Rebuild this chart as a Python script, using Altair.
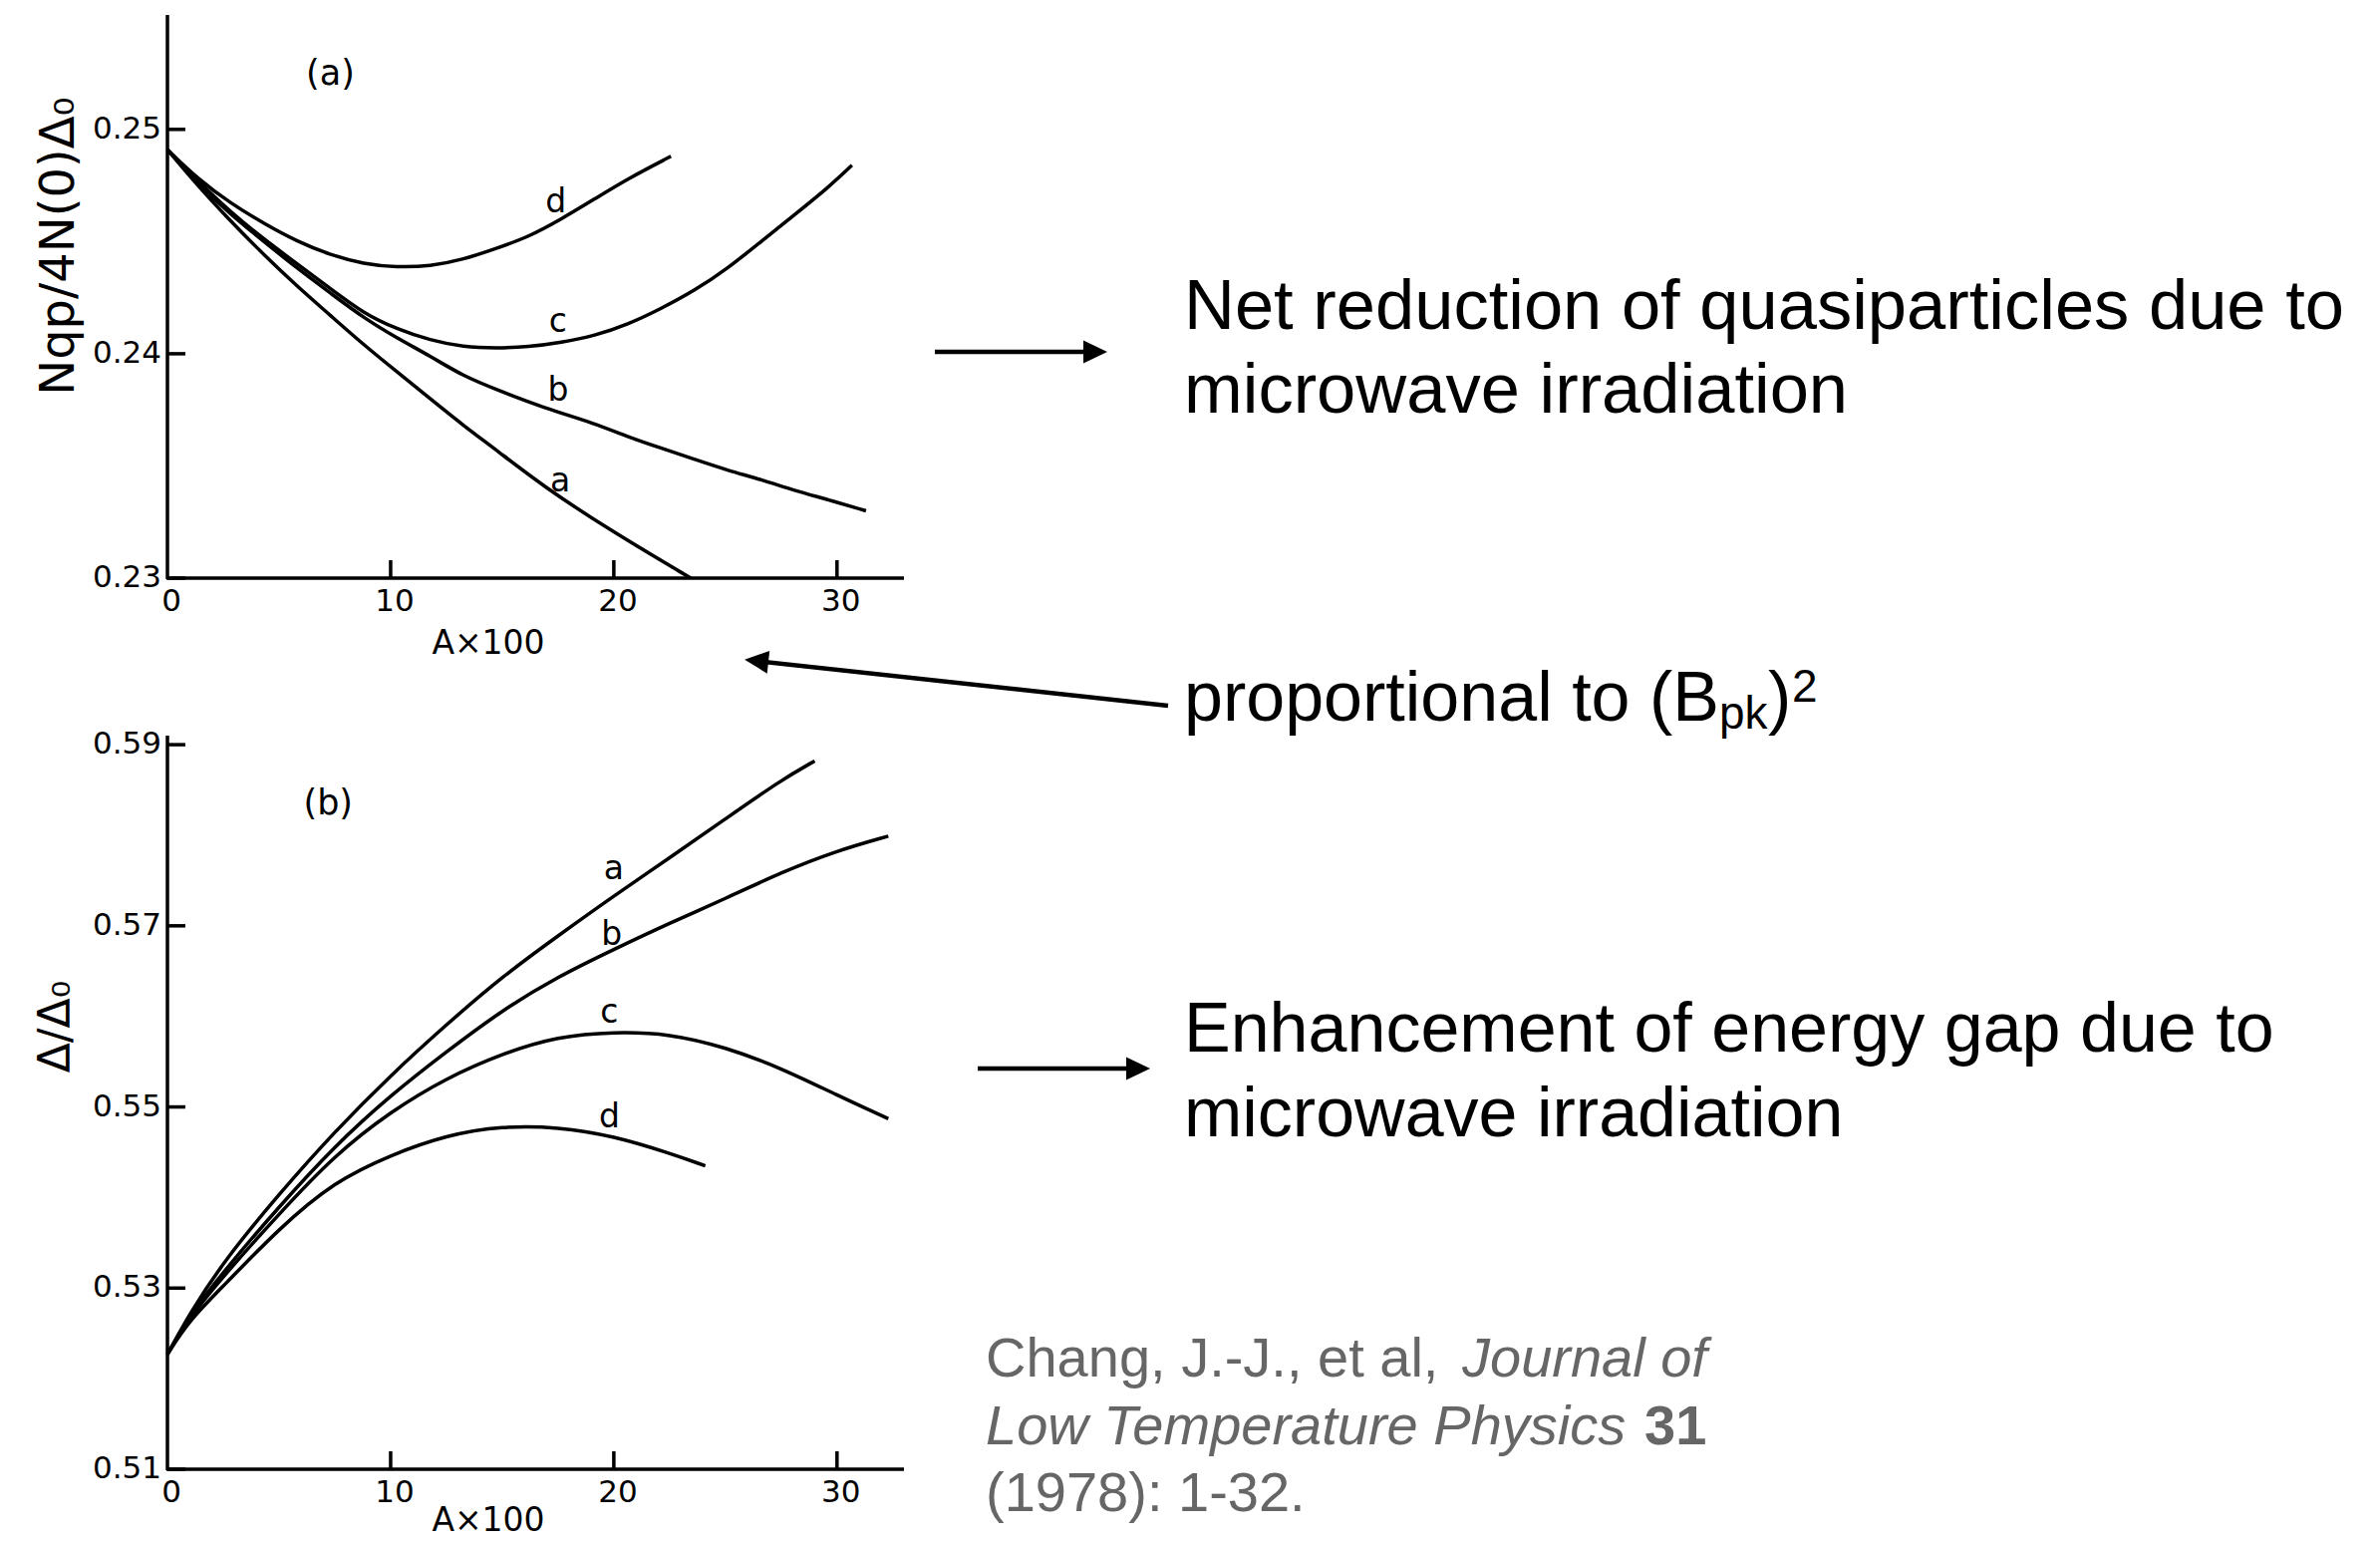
import altair as alt
import pandas as pd

# ---------------- data ----------------
CURVES = ["a", "b", "c", "d"]

# panel (a): N_qp / 4N(0)Delta0 vs A x 100
A_a_x = [0, 1.35, 2.84, 4.33, 5.82, 7.31, 8.79, 10.28, 11.77, 13.26, 14.75, 16.83, 19.88, 23.45]
A_a_y = [0.2491, 0.2475, 0.2459, 0.2444, 0.2430, 0.2417, 0.2404, 0.2392, 0.2380, 0.2368, 0.2357, 0.2341, 0.2321, 0.2300]
A_b_x = [0, 1.35, 2.84, 4.33, 5.82, 7.31, 8.79, 10.28, 11.77, 13.26, 14.75, 16.83, 19.14, 20.62, 22.1, 23.6, 25.1, 26.6, 28.1, 29.6, 31.3]
A_b_y = [0.2491, 0.2476, 0.2462, 0.2450, 0.2438, 0.2427, 0.2416, 0.2407, 0.2399, 0.2390, 0.2384, 0.2376, 0.2369, 0.2363, 0.2358, 0.2353, 0.2348, 0.2344, 0.2339, 0.2335, 0.2330]
A_c_x = [0, 1.35, 2.84, 4.33, 5.82, 7.31, 8.79, 10.28, 11.77, 13.26, 14.75, 16.16, 17.65, 19.14, 20.62, 22.1, 23.6, 25.1, 26.6, 28.1, 29.6, 30.67]
A_c_y = [0.2491, 0.2477, 0.2463, 0.2451, 0.2440, 0.2429, 0.2418, 0.2411, 0.2406, 0.2403, 0.24025, 0.2403, 0.2405, 0.2408, 0.2413, 0.2420, 0.2428, 0.2438, 0.2450, 0.2462, 0.2474, 0.2484]
A_d_x = [0, 1.35, 2.84, 4.33, 5.82, 7.31, 8.79, 10.28, 11.77, 13.26, 14.75, 16.16, 17.65, 19.14, 20.62, 22.56]
A_d_y = [0.2491, 0.2478, 0.2467, 0.2458, 0.2450, 0.2444, 0.2440, 0.24385, 0.2439, 0.2442, 0.2447, 0.2452, 0.2460, 0.2469, 0.2478, 0.2488]

# panel (b): Delta / Delta0 vs A x 100
B_a_x = [0, 1, 2.5, 5, 7.5, 10, 12.5, 15, 17.5, 20, 22.5, 25, 27.5, 29]
B_a_y = [0.5227, 0.5272, 0.5329, 0.5404, 0.5473, 0.5535, 0.5591, 0.5644, 0.5689, 0.5733, 0.5775, 0.5818, 0.5861, 0.5882]
B_b_x = [0, 1, 2.5, 5, 7.5, 10, 12.5, 15, 17.5, 20, 22.5, 25, 27.5, 30, 32.3]
B_b_y = [0.5227, 0.5270, 0.5318, 0.5390, 0.5457, 0.5513, 0.5561, 0.5607, 0.5644, 0.5674, 0.5703, 0.5730, 0.5759, 0.5783, 0.5799]
B_c_x = [0, 1, 2.5, 5, 7.5, 10, 12.5, 15, 17.5, 20, 22.5, 25, 27.5, 30, 32.3]
B_c_y = [0.5227, 0.5268, 0.5313, 0.5382, 0.5447, 0.5495, 0.5532, 0.5559, 0.5578, 0.5583, 0.5581, 0.5566, 0.5543, 0.5513, 0.5487]
B_d_x = [0, 1, 2.5, 5, 7.5, 10, 12.5, 15, 17.5, 20, 22.5, 24.1]
B_d_y = [0.5227, 0.5265, 0.5302, 0.5366, 0.5418, 0.5447, 0.5469, 0.5479, 0.5478, 0.5468, 0.5449, 0.5435]

# curve label positions (x, y) in data units
A_LABEL_X = [17.6, 17.5, 17.5, 17.4]
A_LABEL_Y = [0.23431, 0.23836, 0.24142, 0.24676]
B_LABEL_X = [20.0, 19.9, 19.8, 19.8]
B_LABEL_Y = [0.5762, 0.5690, 0.5604, 0.5489]
PANEL_TAGS = ["(a)", "(b)"]
A_TAG_XY = [7.3, 0.2525]
B_TAG_XY = [7.2, 0.5835]

X_TICKS = [0, 10, 20, 30]
X_MINOR = [10, 20, 30]
A_Y_TICKS = [0.23, 0.24, 0.25]
B_Y_TICKS = [0.51, 0.53, 0.55, 0.57, 0.59]

X_TITLE = "A×100"
A_Y_TITLE = "Nqp/4N(0)Δ₀"
B_Y_TITLE = "Δ/Δ₀"

NOTE_1 = ["Net reduction of quasiparticles due to", "microwave irradiation"]
NOTE_2 = ["proportional to (B", "pk", ")", "2"]
NOTE_3 = ["Enhancement of energy gap due to", "microwave irradiation"]
CITE = ["Chang, J.-J., et al, ", "Journal of", "Low Temperature Physics ", "31", "(1978): 1-32."]

FIG_FONT = "DejaVu Sans"
TXT_FONT = "Liberation Sans"


def long_df(xs_list, ys_list):
    rows = []
    for name, xs, ys in zip(CURVES, xs_list, ys_list):
        for x, y in zip(xs, ys):
            rows.append({"curve": name, "x": x, "y": y})
    return pd.DataFrame(rows)


dfA = long_df([A_a_x, A_b_x, A_c_x, A_d_x], [A_a_y, A_b_y, A_c_y, A_d_y])
dfB = long_df([B_a_x, B_b_x, B_c_x, B_d_x], [B_a_y, B_b_y, B_c_y, B_d_y])
labA = pd.DataFrame({"label": CURVES, "x": A_LABEL_X, "y": A_LABEL_Y})
labB = pd.DataFrame({"label": CURVES, "x": B_LABEL_X, "y": B_LABEL_Y})
tagA = pd.DataFrame({"label": [PANEL_TAGS[0]], "x": [A_TAG_XY[0]], "y": [A_TAG_XY[1]]})
tagB = pd.DataFrame({"label": [PANEL_TAGS[1]], "x": [B_TAG_XY[0]], "y": [B_TAG_XY[1]]})
ONE = pd.DataFrame({"k": [0]})

W, H = 2388, 1546
X0, X1 = 168, 907
A_BOT, A_TOP = 580, 15
B_BOT, B_TOP = 1474, 738
LW = 3.5


def xscale():
    return alt.Scale(domain=[0, 33], range=[X0, X1], nice=False, zero=False)


YA = dict(domain=[0.23, 0.2551], range=[A_BOT, A_TOP], nice=False, zero=False)
YB = dict(domain=[0.51, 0.591], range=[B_BOT, B_TOP], nice=False, zero=False)


def panel(df, lab, tag, yscale, ybot, ytop, yticks, ytitle, ytitle_xy, ytitle_fs, xtitle_base):
    X = lambda f: alt.X(f, scale=xscale(), axis=None)
    Y = lambda f: alt.Y(f, scale=alt.Scale(**yscale), axis=None)

    lines = alt.Chart(df).mark_line(color="black", strokeWidth=LW, interpolate="basis").encode(
        x=X("x:Q"), y=Y("y:Q"), detail="curve:N",
    )
    labels = alt.Chart(lab).mark_text(font=FIG_FONT, fontSize=33, color="black").encode(
        x=X("x:Q"), y=Y("y:Q"), text="label:N",
    )
    tags = alt.Chart(tag).mark_text(font=FIG_FONT, fontSize=35, color="black").encode(
        x=X("x:Q"), y=Y("y:Q"), text="label:N",
    )
    # axis lines
    xdom = alt.Chart(ONE).mark_rule(color="black", strokeWidth=LW).encode(
        x=alt.value(X0 - 1), x2=alt.value(X1), y=alt.value(ybot), y2=alt.value(ybot))
    ydom = alt.Chart(ONE).mark_rule(color="black", strokeWidth=LW).encode(
        x=alt.value(X0), x2=alt.value(X0), y=alt.value(ytop), y2=alt.value(ybot + 1))
    # ticks
    xt = alt.Chart(pd.DataFrame({"v": X_MINOR})).mark_rule(color="black", strokeWidth=LW).encode(
        x=X("v:Q"), y=alt.value(ybot - 18), y2=alt.value(ybot),
    )
    yt = alt.Chart(pd.DataFrame({"v": yticks})).mark_rule(color="black", strokeWidth=LW).encode(
        y=Y("v:Q"), x=alt.value(X0), x2=alt.value(X0 + 18),
    )
    # tick labels
    xl = alt.Chart(pd.DataFrame({"v": X_TICKS, "t": [str(v) for v in X_TICKS]})).mark_text(
        font=FIG_FONT, fontSize=31, color="black", baseline="middle", align="center", dx=4
    ).encode(x=X("v:Q"), y=alt.value(ybot + 24), text="t:N")
    yl = alt.Chart(pd.DataFrame({"v": yticks, "t": [f"{v:.2f}" for v in yticks]})).mark_text(
        font=FIG_FONT, fontSize=31, color="black", baseline="middle", align="right"
    ).encode(y=Y("v:Q"), x=alt.value(X0 - 6), text="t:N")
    # axis titles
    xtl = alt.Chart(ONE).mark_text(font=FIG_FONT, fontSize=33, color="black",
                                   baseline="alphabetic", align="center").encode(
        x=alt.value(490), y=alt.value(xtitle_base), text=alt.value(X_TITLE))
    ytl = alt.Chart(ONE).mark_text(font=FIG_FONT, fontSize=ytitle_fs, color="black",
                                   baseline="middle", align="center", angle=270).encode(
        x=alt.value(ytitle_xy[0]), y=alt.value(ytitle_xy[1]), text=alt.value(ytitle))
    return alt.layer(xdom, ydom, xt, yt, xl, yl, xtl, ytl, lines, labels, tags)


panelA = panel(dfA, labA, tagA, YA, A_BOT, A_TOP, A_Y_TICKS, A_Y_TITLE, (60, 247), 48, 656)
panelB = panel(dfB, labB, tagB, YB, B_BOT, B_TOP, B_Y_TICKS, B_Y_TITLE, (57, 1030), 44, 1536)


def txt(s, x, y, size, color="black", style="normal", weight="normal"):
    return alt.Chart(ONE).mark_text(
        align="left", baseline="alphabetic", font=TXT_FONT, fontSize=size,
        color=color, fontStyle=style, fontWeight=weight,
    ).encode(x=alt.value(x), y=alt.value(y), text=alt.value(s))


def seg(x1, y1, x2, y2):
    return alt.Chart(ONE).mark_rule(color="black", strokeWidth=4.5).encode(
        x=alt.value(x1), y=alt.value(y1), x2=alt.value(x2), y2=alt.value(y2))


HEAD = "M1,0L-1,-0.95L-1,0.95Z"


def head(x, y, ang):
    return alt.Chart(ONE).mark_point(shape=HEAD, filled=True, size=576, color="black",
                                     opacity=1, strokeWidth=0, angle=ang).encode(
        x=alt.value(x), y=alt.value(y))


GRAY = "#666666"
annots = [
    txt(NOTE_1[0], 1188, 330, 70.5), txt(NOTE_1[1], 1188, 414, 70.5),
    txt(NOTE_2[0], 1188, 723, 70), txt(NOTE_2[1], 1725, 731, 46),
    txt(NOTE_2[2], 1774, 723, 70), txt(NOTE_2[3], 1798, 704, 46),
    txt(NOTE_3[0], 1188, 1055, 70), txt(NOTE_3[1], 1188, 1140, 70),
    txt(CITE[0], 989, 1381, 56, GRAY), txt(CITE[1], 1467, 1381, 56, GRAY, "italic"),
    txt(CITE[2], 989, 1449, 56, GRAY, "italic"), txt(CITE[3], 1650, 1449, 56, GRAY, "normal", "bold"),
    txt(CITE[4], 989, 1516, 56, GRAY),
    seg(938, 353, 1100, 353), head(1099, 353, 0),
    seg(981, 1072, 1143, 1072), head(1142, 1072, 0),
    seg(1172, 708, 757, 663), head(759, 663, 186.2),
]

chart = alt.layer(panelA, panelB, *annots).resolve_scale(
    x="independent", y="independent"
).properties(
    width=W, height=H, padding=0, autosize=alt.AutoSizeParams(type="none"), background="white"
).configure_view(stroke=None)

chart.save("out.html", embed_options={"renderer": "svg", "actions": False})
